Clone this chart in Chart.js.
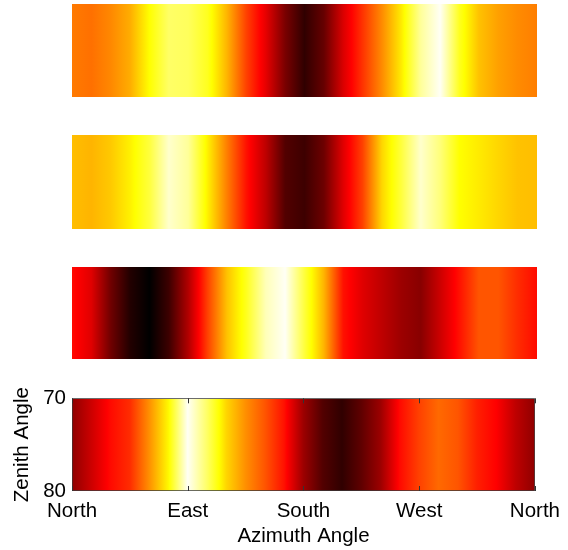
<!DOCTYPE html>
<html>
<head>
<meta charset="utf-8">
<script src="https://cdn.jsdelivr.net/npm/chart.js@4.4.1/dist/chart.umd.min.js"></script>
<style>
  html, body { margin: 0; padding: 0; background: #fff; }
  body { position: relative; width: 568px; height: 550px; overflow: hidden; }
  canvas { position: absolute; }
</style>
</head>
<body>
<canvas id="strip1" width="465" height="93" style="left:72px;top:4px"></canvas>
<canvas id="strip2" width="465" height="94" style="left:72px;top:135px"></canvas>
<canvas id="strip3" width="465" height="92" style="left:72px;top:267px"></canvas>
<canvas id="strip4" width="568" height="170" style="left:0;top:380px"></canvas>
<script>
// azimuth samples (degrees, 0 = North, clockwise)
var azimuth = [0, 15, 30, 45, 60, 75, 90, 105, 120, 135, 150, 165, 180,
               195, 210, 225, 240, 255, 270, 285, 300, 315, 330, 345, 360];
var dirTicks = ['North', 'East', 'South', 'West', 'North'];
var zenithRange = [70, 80];

// normalised intensity (0 = black, 1 = white on the hot colour map)
var intensity1 = [0.555, 0.54, 0.575, 0.63, 0.75, 0.85, 0.84, 0.78, 0.64, 0.47, 0.34, 0.18, 0.07,
                  0.15, 0.32, 0.45, 0.58, 0.72, 0.90, 0.99, 0.78, 0.66, 0.61, 0.58, 0.56];
var intensity2 = [0.655, 0.64, 0.67, 0.73, 0.81, 0.95, 0.90, 0.73, 0.56, 0.40, 0.28, 0.12, 0.09,
                  0.16, 0.33, 0.47, 0.69, 0.81, 0.95, 0.87, 0.75, 0.72, 0.69, 0.66, 0.655];
var intensity3 = [0.39, 0.33, 0.165, 0.05, 0.0, 0.09, 0.26, 0.47, 0.66, 0.78, 0.93, 0.99, 0.81,
                  0.64, 0.40, 0.33, 0.28, 0.23, 0.20, 0.30, 0.40, 0.50, 0.50, 0.44, 0.39];
var intensity4 = [0.21, 0.30, 0.39, 0.44, 0.585, 0.74, 0.99, 0.85, 0.69, 0.585, 0.50, 0.40, 0.23,
                  0.12, 0.07, 0.14, 0.23, 0.39, 0.47, 0.53, 0.50, 0.42, 0.375, 0.28, 0.21];

function clamp(v) { return Math.max(0, Math.min(1, v)); }
function hot(v) {
  var r = clamp(v / 0.375), g = clamp((v - 0.375) / 0.375), b = clamp((v - 0.75) / 0.25);
  return 'rgb(' + Math.round(r * 255) + ',' + Math.round(g * 255) + ',' + Math.round(b * 255) + ')';
}

// gradient built along the x scale from the samples;
// extra stops where the hot map changes channel so colours stay on the map
function hotFill(values) {
  return function (c) {
    var chart = c.chart, area = chart.chartArea;
    if (!area) return hot(values[0]);
    var xs = chart.scales.x;
    var w = area.right - area.left;
    var g = chart.ctx.createLinearGradient(area.left, 0, area.right, 0);
    azimuth.forEach(function (a, i) {
      var p = (xs.getPixelForValue(a) - area.left) / w;
      g.addColorStop(clamp(p), hot(values[i]));
      if (i < azimuth.length - 1) {
        var v0 = values[i], v1 = values[i + 1];
        var p1 = (xs.getPixelForValue(azimuth[i + 1]) - area.left) / w;
        [0.375, 0.75].forEach(function (k) {
          if ((v0 - k) * (v1 - k) < 0) {
            var f = (k - v0) / (v1 - v0);
            g.addColorStop(clamp(p + f * (p1 - p)), hot(k));
          }
        });
      }
    });
    return g;
  };
}

var font = { family: 'Liberation Sans, Arial, sans-serif', size: 20.5 };

function makeStrip(id, values) {
  return new Chart(document.getElementById(id), {
    type: 'bar',
    data: {
      labels: ['z'],
      datasets: [{
        data: [[azimuth[0], azimuth[azimuth.length - 1]]],
        backgroundColor: hotFill(values),
        borderWidth: 0,
        barPercentage: 1,
        categoryPercentage: 1
      }]
    },
    options: {
      indexAxis: 'y',
      responsive: false,
      animation: false,
      devicePixelRatio: 1,
      layout: { padding: 0 },
      plugins: { legend: { display: false }, tooltip: { enabled: false } },
      scales: {
        x: { type: 'linear', min: 0, max: 360, display: false },
        y: { display: false }
      }
    }
  });
}

makeStrip('strip1', intensity1);
makeStrip('strip2', intensity2);
makeStrip('strip3', intensity3);

// little inward tick marks like the original axes
var innerTicks = {
  id: 'innerTicks',
  afterDatasetsDraw: function (chart) {
    var ctx = chart.ctx, area = chart.chartArea, xs = chart.scales.x;
    ctx.save();
    ctx.strokeStyle = '#333';
    ctx.lineWidth = 1;
    xs.ticks.forEach(function (t) {
      var px = Math.round(xs.getPixelForValue(t.value)) + 0.5;
      ctx.beginPath();
      ctx.moveTo(px, area.bottom);
      ctx.lineTo(px, area.bottom - 5);
      ctx.moveTo(px, area.top);
      ctx.lineTo(px, area.top + 5);
      ctx.stroke();
    });
    ctx.restore();
  }
};

new Chart(document.getElementById('strip4'), {
  type: 'bar',
  data: {
    labels: ['z'],
    datasets: [{
      data: [[azimuth[0], azimuth[azimuth.length - 1]]],
      backgroundColor: hotFill(intensity4),
      borderColor: '#3a3a3a',
      borderWidth: 1,
      borderSkipped: false,
      barPercentage: 1,
      categoryPercentage: 1,
      yAxisID: 'y'
    }]
  },
  plugins: [innerTicks],
  options: {
    indexAxis: 'y',
    responsive: false,
    animation: false,
    devicePixelRatio: 1,
    layout: { padding: { top: 18, right: 31, left: 0, bottom: 0 } },
    plugins: { legend: { display: false }, tooltip: { enabled: false } },
    scales: {
      x: {
        type: 'linear', min: 0, max: 360, offset: false,
        grid: { display: false, drawTicks: false },
        border: { display: false },
        ticks: {
          stepSize: 90,
          color: '#000',
          font: font,
          padding: 8,
          maxRotation: 0,
          callback: function (v) { return dirTicks[v / 90]; }
        },
        title: { display: true, text: 'Azimuth Angle', color: '#000', font: font, padding: { top: 1, bottom: 1 } },
        afterFit: function (s) { s.height = 59; }
      },
      y: { display: false },
      zen: {
        type: 'linear', position: 'left', reverse: true, offset: false,
        min: zenithRange[0], max: zenithRange[1],
        grid: { display: false, drawTicks: false },
        border: { display: false },
        ticks: { stepSize: 10, color: '#000', font: font, padding: 6 },
        title: { display: true, text: 'Zenith Angle', color: '#000', font: font, padding: { top: 10, bottom: 10 } },
        afterFit: function (s) { s.width = 72; }
      }
    }
  }
});
</script>
</body>
</html>
